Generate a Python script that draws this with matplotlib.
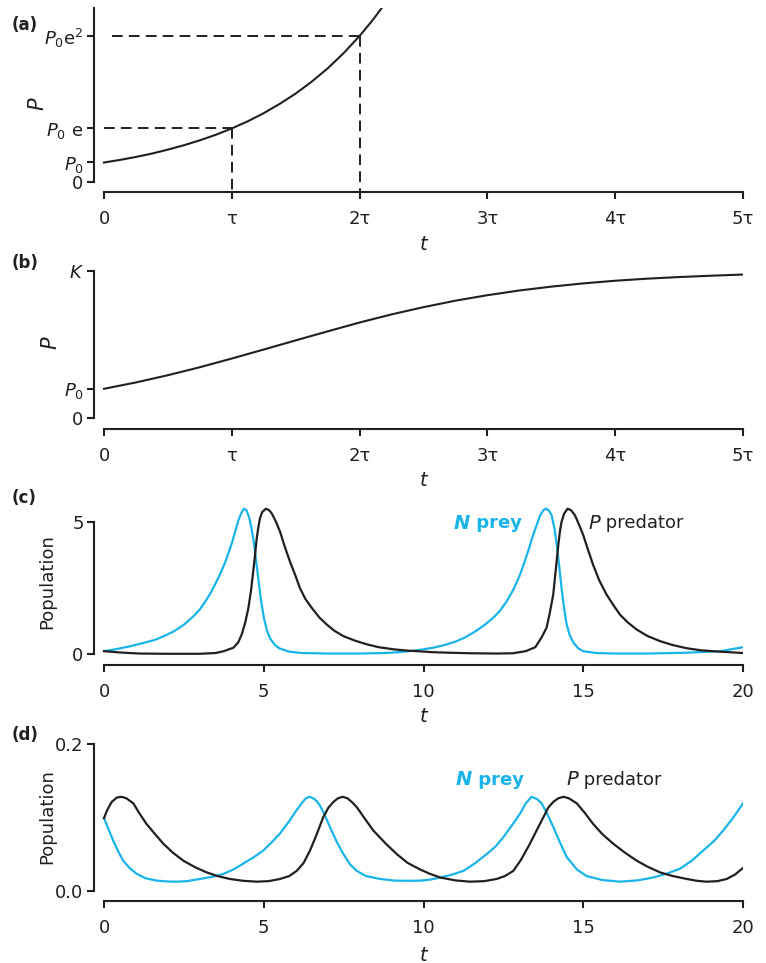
import matplotlib
matplotlib.use('Agg')
import matplotlib.pyplot as plt

INK = '#231f20'
CYAN = '#19b4e8'

# (a) exponential growth, P in units of P0, t in units of tau
exp_t = [0.0, 0.125, 0.25, 0.375, 0.5, 0.625, 0.75, 0.875, 1.0, 1.125, 1.25,
         1.375, 1.5, 1.625, 1.75, 1.875, 2.0, 2.1, 2.2]
exp_p = [1.0, 1.13, 1.28, 1.45, 1.65, 1.87, 2.12, 2.40, 2.72, 3.08, 3.49,
         3.96, 4.48, 5.08, 5.75, 6.52, 7.39, 8.17, 9.03]
E1, E2 = 2.718, 7.389

# (b) logistic growth, P in units of K
log_t = [0.0, 0.25, 0.5, 0.75, 1.0, 1.25, 1.5, 1.75, 2.0, 2.25, 2.5, 2.75,
         3.0, 3.25, 3.5, 3.75, 4.0, 4.25, 4.5, 4.75, 5.0]
log_p = [0.200, 0.243, 0.292, 0.346, 0.405, 0.466, 0.528, 0.589, 0.649, 0.704,
         0.753, 0.797, 0.834, 0.866, 0.892, 0.914, 0.932, 0.946, 0.957, 0.966,
         0.974]
tau_labels = ['0', 'τ', '2τ', '3τ', '4τ', '5τ']

# (c) predator-prey, large amplitude
prey_c_t = [0.0, 0.4, 0.8, 1.2, 1.6, 1.9, 2.2, 2.5, 2.8, 3.0, 3.2, 3.35, 3.5,
            3.65, 3.8, 3.9, 4.0, 4.1, 4.2, 4.3, 4.38,
            4.46, 4.55, 4.62, 4.70, 4.78, 4.85, 4.92, 5.0, 5.1, 5.2, 5.35, 5.5,
            5.8, 6.2, 7.0, 8.0, 8.8, 9.2, 9.58, 9.95, 10.3, 10.65, 11.0, 11.3,
            11.6, 11.9, 12.2, 12.4, 12.6, 12.8, 13.0, 13.15, 13.3, 13.4, 13.5,
            13.65, 13.75, 13.83, 13.92, 14.01, 14.1, 14.17,
            14.25, 14.32, 14.4, 14.48, 14.58, 14.69, 14.85, 15.0, 15.4, 16.0,
            17.0, 18.2, 19.3, 20.0]
prey_c_v = [0.12, 0.20, 0.30, 0.42, 0.55, 0.70, 0.88, 1.12, 1.44, 1.70, 2.05,
            2.35, 2.70, 3.08, 3.50, 3.85, 4.20, 4.62, 5.05, 5.35, 5.51,
            5.45, 5.15, 4.75, 4.15, 3.35, 2.65, 2.0, 1.40, 0.90,
            0.60, 0.35, 0.22, 0.10, 0.05, 0.03, 0.03, 0.05, 0.08, 0.12, 0.18,
            0.25, 0.35, 0.48, 0.64, 0.85, 1.10, 1.40, 1.66, 2.00, 2.42, 2.95,
            3.45, 4.00, 4.40, 4.75, 5.25, 5.45, 5.51, 5.45,
            5.26, 4.75, 4.14, 3.30, 2.51, 1.75, 1.13, 0.72, 0.44, 0.22, 0.12,
            0.05, 0.03, 0.03, 0.06, 0.12, 0.27]
pred_c_t = [0.0, 0.5, 1.1, 2.0, 3.0, 3.5, 3.75, 4.05, 4.2, 4.31, 4.42, 4.52,
            4.6, 4.67, 4.73, 4.78, 4.83, 4.88, 4.95, 5.07, 5.17, 5.25, 5.38,
            5.51, 5.65, 5.82, 6.0, 6.13, 6.3, 6.5, 6.75, 6.97, 7.2, 7.49, 7.85,
            8.22, 8.6, 9.06, 9.5, 9.79, 10.3, 10.83, 11.5, 12.3, 12.8, 13.2,
            13.5, 13.7, 13.85, 13.95, 14.06, 14.14, 14.22, 14.27, 14.32, 14.4,
            14.51, 14.62, 14.74, 14.87, 15.0, 15.15, 15.31, 15.5, 15.73, 15.95,
            16.15, 16.4, 16.67, 17.0, 17.4, 17.8, 18.24, 18.7, 19.28, 20.0]
pred_c_v = [0.12, 0.07, 0.03, 0.02, 0.02, 0.05, 0.12, 0.25, 0.45, 0.75, 1.20,
            1.76, 2.40, 3.13, 3.80, 4.39, 4.80, 5.14, 5.38, 5.51, 5.45, 5.33,
            5.02, 4.64, 4.10, 3.51, 2.95, 2.51, 2.10, 1.76, 1.38, 1.13, 0.90,
            0.69, 0.52, 0.38, 0.27, 0.19, 0.14, 0.12, 0.08, 0.06, 0.04, 0.03,
            0.04, 0.12, 0.27, 0.65, 1.00, 1.55, 2.26, 3.20, 4.14, 4.65, 5.01,
            5.32, 5.51, 5.45, 5.26, 4.90, 4.51, 3.95, 3.38, 2.80, 2.26, 1.85,
            1.50, 1.20, 0.94, 0.70, 0.50, 0.35, 0.23, 0.15, 0.10, 0.05]

# (d) predator-prey, small amplitude
prey_d_t = [0.0, 0.15, 0.29, 0.45, 0.6, 0.8, 1.02, 1.3, 1.65, 2.0, 2.27, 2.6,
            3.0, 3.4, 3.74, 4.05, 4.36, 4.7, 4.99, 5.25, 5.51, 5.8, 6.03, 6.2,
            6.32, 6.43, 6.55, 6.66, 6.76, 6.9, 7.07, 7.28, 7.49, 7.7, 7.91, 8.2,
            8.64, 9.1, 9.58, 9.89, 10.2, 10.52, 10.9, 11.25, 11.6, 11.98, 12.25,
            12.5, 12.75, 13.02, 13.2, 13.38, 13.55, 13.7, 13.88, 14.06, 14.27,
            14.48, 14.8, 15.1, 15.6, 16.15, 16.7, 17.19, 17.6, 18.03, 18.4,
            18.76, 19.1, 19.38, 19.7, 20.0]
prey_d_v = [0.099, 0.083, 0.068, 0.053, 0.041, 0.031, 0.023, 0.017, 0.0137,
            0.0125, 0.0123, 0.013, 0.016, 0.019, 0.023, 0.029, 0.037, 0.046,
            0.055, 0.066, 0.078, 0.095, 0.110, 0.120, 0.126, 0.128, 0.126,
            0.122, 0.116, 0.104, 0.087, 0.067, 0.050, 0.036, 0.027, 0.020,
            0.016, 0.0137, 0.0135, 0.0137, 0.015, 0.018, 0.022, 0.027, 0.037,
            0.050, 0.060, 0.073, 0.088, 0.105, 0.119, 0.128, 0.125, 0.119,
            0.104, 0.087, 0.066, 0.046, 0.029, 0.020, 0.0145, 0.0123, 0.014,
            0.018, 0.023, 0.030, 0.041, 0.055, 0.068, 0.082, 0.100, 0.119]
pred_d_t = [0.0, 0.1, 0.24, 0.4, 0.55, 0.7, 0.92, 1.1, 1.33, 1.6, 1.86, 2.15,
            2.48, 2.85, 3.21, 3.55, 3.94, 4.35, 4.78, 5.15, 5.51, 5.8, 6.03,
            6.25, 6.45, 6.65, 6.86, 7.02, 7.18, 7.32, 7.47, 7.62, 7.78, 7.91,
            8.15, 8.43, 8.8, 9.16, 9.5, 9.89, 10.2, 10.52, 11.0, 11.46, 11.9,
            12.29, 12.55, 12.81, 13.05, 13.33, 13.55, 13.75, 13.9, 14.06, 14.22,
            14.38, 14.55, 14.8, 15.05, 15.31, 15.6, 15.94, 16.3, 16.67, 17.0,
            17.4, 17.8, 18.24, 18.55, 18.86, 19.2, 19.49, 19.75, 20.0]
pred_d_v = [0.099, 0.110, 0.121, 0.127, 0.128, 0.126, 0.119, 0.106, 0.091,
            0.077, 0.064, 0.052, 0.041, 0.032, 0.025, 0.020, 0.016, 0.0135,
            0.0123, 0.013, 0.016, 0.020, 0.027, 0.038, 0.055, 0.076, 0.100,
            0.113, 0.121, 0.126, 0.128, 0.126, 0.120, 0.114, 0.099, 0.082,
            0.065, 0.050, 0.038, 0.029, 0.023, 0.018, 0.014, 0.0123, 0.013,
            0.016, 0.020, 0.027, 0.042, 0.064, 0.083, 0.100, 0.113, 0.121,
            0.126, 0.128, 0.126, 0.119, 0.106, 0.091, 0.077, 0.064, 0.052,
            0.041, 0.033, 0.025, 0.020, 0.016, 0.0135, 0.0123, 0.013, 0.016,
            0.022, 0.031]

W, H = 766, 963
fig = plt.figure(figsize=(W / 100, H / 100), dpi=100)
plt.rcParams['font.family'] = ['DejaVu Sans']


def box(b):
    left, top, right, bottom = b
    return [left / W, 1 - bottom / H, (right - left) / W, (bottom - top) / H]


def frac(b, px, py):
    left, top, right, bottom = b
    return (px - left) / (right - left), (bottom - py) / (bottom - top)


def setup(b, xmax, ymax):
    ax = fig.add_axes(box(b))
    for s in ['top', 'right']:
        ax.spines[s].set_visible(False)
    for s in ['left', 'bottom']:
        ax.spines[s].set_linewidth(1.5)
        ax.spines[s].set_color(INK)
    ax.spines['left'].set_bounds(0, ymax)
    ax.spines['bottom'].set_bounds(0, xmax)
    ax.tick_params(width=1.5, length=5, color=INK, labelsize=13, labelcolor=INK)
    ax.tick_params(axis='x', pad=8)
    ax.tick_params(axis='y', pad=2.5)
    return ax


def labels(ax, b, ylab, ypos, xpos, ysize=13):
    ax.set_xlabel('$t$', fontsize=14, color=INK)
    ax.xaxis.set_label_coords(*frac(b, *xpos))
    ax.xaxis.label.set_va('center')
    ax.set_ylabel(ylab, fontsize=ysize, color=INK)
    ax.yaxis.set_label_coords(*frac(b, *ypos))
    ax.yaxis.label.set_va('center')


def species_labels(ax, nx, px, y):
    t1 = ax.text(nx, y, 'N', color=CYAN, fontsize=14, fontweight='bold',
                 fontstyle='italic', va='center')
    ax.annotate(' prey', xy=(1, 0.5), xycoords=t1, color=CYAN, fontsize=13,
                fontweight='bold', va='center')
    t2 = ax.text(px, y, 'P', color=INK, fontsize=14, fontstyle='italic',
                 va='center')
    ax.annotate(' predator', xy=(1, 0.5), xycoords=t2, color=INK, fontsize=13,
                va='center')


# ---- (a)
BA = (94, 8, 743, 192)
ax = setup(BA, 5, 8.8)
ax.set_xlim(-10 / 127.8, 5)
ax.set_ylim(-0.49, 8.8)
ax.plot(exp_t, exp_p, color=INK, lw=1.5)
dash = (0, (5.5, 3.2))
ax.plot([0, 1], [E1, E1], color=INK, lw=1.4, ls=dash)
ax.plot([1, 1], [E1, -0.49], color=INK, lw=1.4, ls=dash)
ax.plot([0.06, 2], [E2, E2], color=INK, lw=1.4, ls=dash)
ax.plot([2, 2], [E2, -0.49], color=INK, lw=1.4, ls=dash)
ax.set_xticks(range(6))
ax.set_xticklabels(tau_labels)
ax.set_yticks([0, 1, E1, E2])
ax.set_yticklabels(['0', '$P_0$', r'$P_0\ \mathrm{e}$', r'$P_0\mathrm{e}^2$'])
labels(ax, BA, '$P$', (38, 104), (424, 245), ysize=15)

# ---- (b)
BB = (94, 270.7, 743, 429)
ax = setup(BB, 5, 1.0)
ax.set_xlim(-10 / 127.8, 5)
ax.set_ylim(-10.7 / 147.6, 1.0)
ax.plot(log_t, log_p, color=INK, lw=1.5)
ax.set_xticks(range(6))
ax.set_xticklabels(tau_labels)
ax.set_yticks([0, 0.2, 1.0])
ax.set_yticklabels(['0', '$P_0$', '$K$'])
labels(ax, BB, '$P$', (51, 343), (424, 481), ysize=15)

# ---- (c)
BC = (94, 506.3, 743, 665)
ax = setup(BC, 20, 5)
ax.set_xlim(-10 / 31.93, 20)
ax.set_ylim(-10.7 / 26.5, 5.6)
ax.plot(prey_c_t, prey_c_v, color=CYAN, lw=1.6)
ax.plot(pred_c_t, pred_c_v, color=INK, lw=1.6)
ax.set_xticks([0, 5, 10, 15, 20])
ax.set_yticks([0, 5])
labels(ax, BC, 'Population', (47, 582), (424, 717))
species_labels(ax, (453 - 104) / 31.93, (588 - 104) / 31.93, 4.95)

# ---- (d)
BD = (94, 744, 743, 901)
ax = setup(BD, 20, 0.2)
ax.set_xlim(-10 / 31.93, 20)
ax.set_ylim(-10.3 / 733, 0.2)
ax.plot(prey_d_t, prey_d_v, color=CYAN, lw=1.6)
ax.plot(pred_d_t, pred_d_v, color=INK, lw=1.6)
ax.set_xticks([0, 5, 10, 15, 20])
ax.set_yticks([0, 0.2])
ax.set_yticklabels(['0.0', '0.2'])
labels(ax, BD, 'Population', (47, 817), (424, 955))
species_labels(ax, (455 - 104) / 31.93, (566 - 104) / 31.93, 0.151)

for lab, py in zip(['(a)', '(b)', '(c)', '(d)'], [25, 263, 498, 735]):
    fig.text(12 / W, 1 - py / H, lab, fontsize=12, fontweight='bold',
             color=INK, ha='left', va='center')

fig.savefig('out.png', dpi=100)
